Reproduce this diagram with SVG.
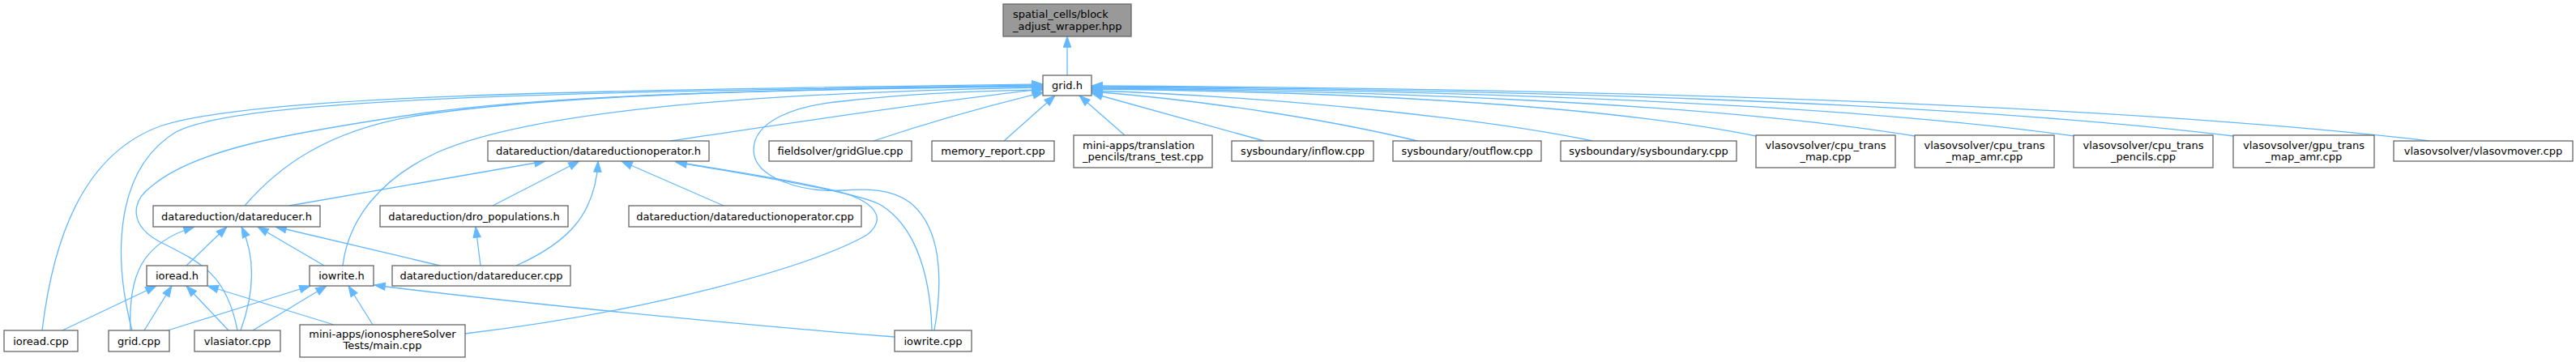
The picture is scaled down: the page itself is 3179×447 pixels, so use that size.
<svg xmlns="http://www.w3.org/2000/svg" width="3179" height="447" viewBox="0 0 3179 447">
<style>
.e{fill:none;stroke:#63b8ff;stroke-width:1.3;marker-end:url(#arr)}
.n rect{fill:#ffffff;stroke:#666666;stroke-width:1.3}
.n text{font-family:"DejaVu Sans",sans-serif;font-size:13px;fill:#000000;text-anchor:middle}
.n text.l{text-anchor:start}
#n_top rect{fill:#999999}
</style>
<defs>
<marker id="arr" markerWidth="14" markerHeight="10" refX="13.3" refY="4.7" orient="auto" markerUnits="userSpaceOnUse" overflow="visible">
<path d="M0,0 L13.3,4.7 L0,9.4 z" fill="#63b8ff" stroke="#63b8ff" stroke-width="1"/>
</marker>
</defs>
<rect x="0" y="0" width="3179" height="447" fill="#ffffff"/>
<g id="connectors">
<path class="e" d="M1317,93 L1317,45"/>
<!-- into grid.h, left side -->
<path class="e" d="M52,408 C65,300 100,190 200,155 C320,118 700,112 1287,104"/>
<path class="e" d="M163,408 C140,320 140,210 217,163 C300,120 700,114 1287,105"/>
<path class="e" d="M293,408 C280,340 250,325 200,300 C160,280 160,250 187,230 C240,185 350,165 520,140 C700,115 1000,110 1287,106"/>
<path class="e" d="M302,254 C340,210 400,160 520,142 C700,115 1000,110 1287,107"/>
<path class="e" d="M423,328 C430,270 470,220 540,188 C650,140 900,115 1287,108"/>
<path class="e" d="M827,174 C950,156 1150,125 1287,110"/>
<path class="e" d="M1078,174 C1150,150 1230,128 1288,114"/>
<path class="e" d="M1153,408 C1165,340 1160,280 1123,250 C1100,233 1070,233 1040,235 C990,238 930,220 930,185 C930,150 980,130 1040,125 C1120,116 1200,112 1287,111"/>
<path class="e" d="M1239,174 L1302,118"/>
<path class="e" d="M1388,167 L1332,118"/>
<!-- into grid.h, right side -->
<path class="e" d="M1560,174 L1347,115"/>
<path class="e" d="M1749,174 C1650,150 1500,125 1347,113"/>
<path class="e" d="M1965,174 C1850,150 1600,120 1347,112"/>
<path class="e" d="M2167,168 C1962,127 1634,113 1347,110"/>
<path class="e" d="M2363,168 C2109,127 1703,112 1347,109"/>
<path class="e" d="M2560,168 C2257,126 1772,111 1347,108"/>
<path class="e" d="M2756,168 C2404,125 1840,110 1347,107"/>
<path class="e" d="M2998,174 C2585,126 1925,109 1347,106"/>
<!-- into datareductionoperator.h -->
<path class="e" d="M357,254 L673,199"/>
<path class="e" d="M608,254 L715,199"/>
<path class="e" d="M637,328 C700,300 735,265 738,199"/>
<path class="e" d="M893,254 L767,199"/>
<path class="e" d="M1150,408 C1148,330 1125,275 1085,252 C1050,235 900,212 834,200"/>
<path class="e" d="M574,412 C800,385 1000,330 1070,290 C1095,270 1080,250 1040,238 C980,222 880,208 834,200"/>
<!-- into datareducer.h -->
<path class="e" d="M161,408 C158,340 175,300 240,280"/>
<path class="e" d="M230,328 L280,280"/>
<path class="e" d="M297,408 C318,350 312,310 298,280"/>
<path class="e" d="M400,328 L318,280"/>
<path class="e" d="M543,328 L340,280"/>
<!-- into dro_populations.h -->
<path class="e" d="M593,328 L587,280"/>
<!-- into ioread.h -->
<path class="e" d="M77,408 L193,353"/>
<path class="e" d="M178,408 L212,353"/>
<path class="e" d="M282,408 L230,353"/>
<path class="e" d="M412,401 L256,353"/>
<!-- into iowrite.h -->
<path class="e" d="M207,408 L383,353"/>
<path class="e" d="M312,408 L403,353"/>
<path class="e" d="M460,401 L430,353"/>
<path class="e" d="M1104,416 C900,400 600,370 462,352"/>
</g>
<g id="n_top" class="n"><rect x="1238" y="5" width="158" height="40"/><text class="l" x="1250" y="21.5">spatial_cells/block</text><text class="l" x="1250" y="36.5">_adjust_wrapper.hpp</text></g>
<g id="n_gridh" class="n"><rect x="1287" y="93" width="60" height="25"/><text x="1317" y="110">grid.h</text></g>
<g id="n_dro_h" class="n"><rect x="602" y="174" width="273" height="25"/><text x="738.5" y="191">datareduction/datareductionoperator.h</text></g>
<g id="n_gridglue" class="n"><rect x="949" y="174" width="176" height="25"/><text x="1037" y="191">fieldsolver/gridGlue.cpp</text></g>
<g id="n_memrep" class="n"><rect x="1150" y="174" width="151" height="25"/><text x="1225.5" y="191">memory_report.cpp</text></g>
<g id="n_transtest" class="n"><rect x="1325" y="167" width="171" height="40"/><text class="l" x="1336" y="183.5">mini-apps/translation</text><text class="l" x="1336" y="198">_pencils/trans_test.cpp</text></g>
<g id="n_inflow" class="n"><rect x="1520" y="174" width="175" height="25"/><text x="1607.5" y="191">sysboundary/inflow.cpp</text></g>
<g id="n_outflow" class="n"><rect x="1719" y="174" width="183" height="25"/><text x="1810.5" y="191">sysboundary/outflow.cpp</text></g>
<g id="n_sysb" class="n"><rect x="1926" y="174" width="217" height="25"/><text x="2034.5" y="191">sysboundary/sysboundary.cpp</text></g>
<g id="n_cpumap" class="n"><rect x="2167" y="167" width="172" height="40"/><text x="2253" y="183.5">vlasovsolver/cpu_trans</text><text x="2253" y="198">_map.cpp</text></g>
<g id="n_cpumapamr" class="n"><rect x="2363" y="167" width="172" height="40"/><text x="2449" y="183.5">vlasovsolver/cpu_trans</text><text x="2449" y="198">_map_amr.cpp</text></g>
<g id="n_cpupencils" class="n"><rect x="2559" y="167" width="172" height="40"/><text x="2645" y="183.5">vlasovsolver/cpu_trans</text><text x="2645" y="198">_pencils.cpp</text></g>
<g id="n_gpumapamr" class="n"><rect x="2756" y="167" width="174" height="40"/><text x="2843" y="183.5">vlasovsolver/gpu_trans</text><text x="2843" y="198">_map_amr.cpp</text></g>
<g id="n_vlasovmover" class="n"><rect x="2954" y="174" width="221" height="25"/><text x="3064.5" y="191">vlasovsolver/vlasovmover.cpp</text></g>
<g id="n_datareducer_h" class="n"><rect x="189" y="254" width="206" height="26"/><text x="292" y="271.5">datareduction/datareducer.h</text></g>
<g id="n_dropop" class="n"><rect x="469" y="254" width="232" height="26"/><text x="585" y="271.5">datareduction/dro_populations.h</text></g>
<g id="n_drocpp" class="n"><rect x="776" y="254" width="287" height="26"/><text x="919.5" y="271.5">datareduction/datareductionoperator.cpp</text></g>
<g id="n_ioread_h" class="n"><rect x="181" y="328" width="75" height="25"/><text x="218.5" y="345">ioread.h</text></g>
<g id="n_iowrite_h" class="n"><rect x="382" y="328" width="79" height="25"/><text x="421.5" y="345">iowrite.h</text></g>
<g id="n_datareducer_cpp" class="n"><rect x="484" y="328" width="220" height="25"/><text x="594" y="345">datareduction/datareducer.cpp</text></g>
<g id="n_ioread_cpp" class="n"><rect x="5" y="408" width="91" height="26"/><text x="50.5" y="425.5">ioread.cpp</text></g>
<g id="n_grid_cpp" class="n"><rect x="134" y="408" width="75" height="26"/><text x="171.5" y="425.5">grid.cpp</text></g>
<g id="n_vlasiator" class="n"><rect x="240" y="408" width="106" height="26"/><text x="293" y="425.5">vlasiator.cpp</text></g>
<g id="n_iono" class="n"><rect x="370" y="401" width="204" height="40"/><text x="472" y="416.5">mini-apps/ionosphereSolver</text><text x="472" y="431">Tests/main.cpp</text></g>
<g id="n_iowrite_cpp" class="n"><rect x="1104" y="408" width="95" height="26"/><text x="1151.5" y="425.5">iowrite.cpp</text></g>
</svg>
